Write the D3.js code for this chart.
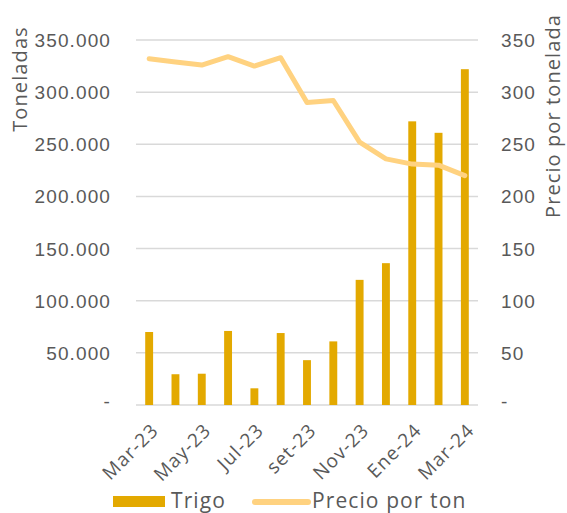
<!DOCTYPE html>
<html>
<head>
<meta charset="utf-8">
<script src="https://cdn.jsdelivr.net/npm/d3@7"></script>
<style>
  body { margin: 0; background: #fff; }
  svg { font-family: "Open Sans", "DejaVu Sans", sans-serif; }
</style>
</head>
<body>
<script>
let months = ["Mar-23","Abr-23","May-23","Jun-23","Jul-23","Ago-23","set-23","Oct-23","Nov-23","Dic-23","Ene-24","Feb-24","Mar-24"];
let trigo = [70000, 29500, 30000, 71000, 16000, 69000, 43000, 61000, 120000, 136000, 272000, 261000, 322000];
let precio = [332, 329, 326, 334, 325, 333, 290, 292, 252, 236, 231, 230, 220];
let ticks = [0, 50000, 100000, 150000, 200000, 250000, 300000, 350000];
let ticksRight = [0, 50, 100, 150, 200, 250, 300, 350];

let width = 567, height = 513;
let margin = {top: 40, right: 89, bottom: 108, left: 136};
let textColor = "#595959";
let spacing = 1.1;

let graph = d3.select("body").append("svg")
    .attr("width", width)
    .attr("height", height)
    .attr("letter-spacing", spacing);

let x = d3.scaleBand(months, [margin.left, width - margin.right])
    .paddingInner(0.7)
    .paddingOuter(0.35);
let y = d3.scaleLinear([0, 350000], [height - margin.bottom, margin.top]);
let y2 = d3.scaleLinear([0, 350], [height - margin.bottom, margin.top]);

function fmt(d) {
    if (d === 0) return "-";
    return d3.format(",")(d).replace(/,/g, ".");
}

// grid
graph.append("g")
    .attr("stroke", "#d9d9d9")
    .attr("stroke-width", 1.5)
    .selectAll("line")
    .data(ticks)
    .join("line")
      .attr("x1", margin.left)
      .attr("x2", width - margin.right)
      .attr("y1", d => y(d))
      .attr("y2", d => y(d));

// left axis
graph.append("g")
    .attr("transform", `translate(${margin.left - 22},0)`)
    .call(d3.axisLeft(y).tickValues(ticks).tickFormat(fmt).tickSize(0))
    .call(g => g.select(".domain").remove())
    .call(g => g.selectAll("text")
        .attr("fill", textColor)
        .attr("font-size", 19)
        .attr("dy", d => d === 0 ? "0.15em" : "0.34em"));

// right axis
graph.append("g")
    .attr("transform", `translate(${width - margin.right + 20},0)`)
    .call(d3.axisRight(y2).tickValues(ticksRight).tickFormat(fmt).tickSize(0))
    .call(g => g.select(".domain").remove())
    .call(g => g.selectAll("text")
        .attr("fill", textColor)
        .attr("font-size", 19)
        .attr("dy", d => d === 0 ? "0.15em" : "0.34em"));

// axis titles
graph.append("text")
    .attr("transform", `translate(27,${margin.top + 39}) rotate(-90)`)
    .attr("text-anchor", "middle")
    .attr("fill", textColor)
    .attr("font-size", 20)
    .text("Toneladas");

graph.append("text")
    .attr("transform", `translate(560,218) rotate(-90)`)
    .attr("text-anchor", "start")
    .attr("fill", textColor)
    .attr("font-size", 20)
    .text("Precio por tonelada");

// bars
graph.append("g")
    .attr("fill", "#e3a900")
    .selectAll("rect")
    .data(trigo)
    .join("rect")
      .attr("x", (d, i) => x(months[i]))
      .attr("width", x.bandwidth())
      .attr("y", d => y(d))
      .attr("height", d => y(0) - y(d));

// line
let line = d3.line()
    .x((d, i) => x(months[i]) + x.bandwidth() / 2)
    .y(d => y2(d));

graph.append("path")
    .datum(precio)
    .attr("fill", "none")
    .attr("stroke", "#ffd280")
    .attr("stroke-width", 5)
    .attr("stroke-linejoin", "round")
    .attr("stroke-linecap", "round")
    .attr("d", line);

// x labels (every other month)
graph.append("g")
    .selectAll("text")
    .data(months.filter((d, i) => i % 2 === 0))
    .join("text")
      .attr("transform", d => `translate(${x(d) + x.bandwidth() / 2 + 1},${height - margin.bottom + 17}) rotate(-45)`)
      .attr("text-anchor", "end")
      .attr("dy", "0.71em")
      .attr("fill", textColor)
      .attr("font-size", 19)
      .text(d => d);

// legend
let legend = graph.append("g");
legend.append("rect")
    .attr("x", 113).attr("y", 496)
    .attr("width", 52).attr("height", 11)
    .attr("fill", "#e3a900");
legend.append("text")
    .attr("x", 171).attr("y", 508)
    .attr("fill", textColor)
    .attr("font-size", 21)
    .text("Trigo");
legend.append("line")
    .attr("x1", 255).attr("x2", 308)
    .attr("y1", 502).attr("y2", 502)
    .attr("stroke", "#ffd280")
    .attr("stroke-width", 6)
    .attr("stroke-linecap", "round");
legend.append("text")
    .attr("x", 312).attr("y", 508)
    .attr("fill", textColor)
    .attr("font-size", 21)
    .text("Precio por ton");
</script>
</body>
</html>
